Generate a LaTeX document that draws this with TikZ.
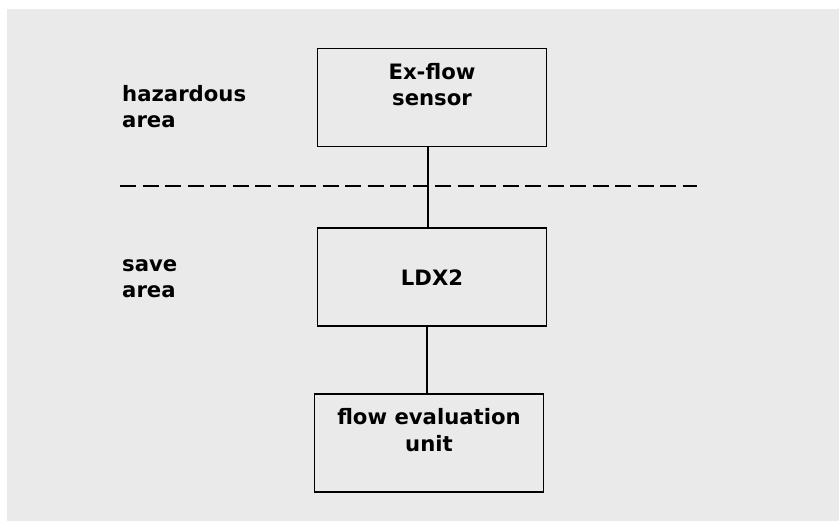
\documentclass[tikz,border=0pt]{standalone}
\usepackage{fontspec}
\setmainfont{DejaVu Sans}
\usepackage{tikz}
\usetikzlibrary{positioning}
\definecolor{bgGray}{HTML}{EAEAEA}
\tikzstyle{tsBoldText} = [
    text=black,
    font=\bfseries\fontsize{21.2}{26.5}\selectfont
]
\tikzstyle{tsWraptext} = [
    tsBoldText,
    align=center
]
\tikzstyle{tsRectangle} = [
    rectangle,
    tsWraptext,
    draw=black,
    line width=1.9pt,
    minimum width=229pt,
    minimum height=98pt,
    inner sep=0pt]
\tikzstyle{tsArea} = [
    tsBoldText,
    align=left,
    anchor=north west,
    inner sep=0pt]
\tikzstyle{tsWire} = [
    black,
    line width=1.9pt]

\begin{document}
\begin{tikzpicture}[x=1pt, y=-1pt]

        \useasboundingbox (0,0) rectangle (839,521);
        \fill[bgGray] (7,9) rectangle (839,521);

        \node[tsRectangle] (sensor) at (432,97.5) {Ex-flow\\sensor\\~};
        \node[tsRectangle, below=80pt of sensor] (ldx) {LDX2};
        \node[tsRectangle, below=66pt of ldx, xshift=-3pt] (evaluation) {flow evaluation\\unit\\~};

        \node[tsArea] (hazardous) at (122,85) {hazardous\\area};
        \node[tsArea] (save) at (122,259) {save\\area};

        \coordinate (borderL) at (120,186);
        \coordinate (borderR) at (697,186);
        \draw[black, line width=2.2pt, dash pattern=on 16pt off 6.5pt] (borderL) -- (borderR);

        \draw[tsWire] ([xshift=-4pt]sensor.south) -- ([xshift=-4pt]ldx.north);
        \draw[tsWire] ([xshift=-5pt]ldx.south) -- ([xshift=-2pt]evaluation.north);

\end{tikzpicture}
\end{document}
